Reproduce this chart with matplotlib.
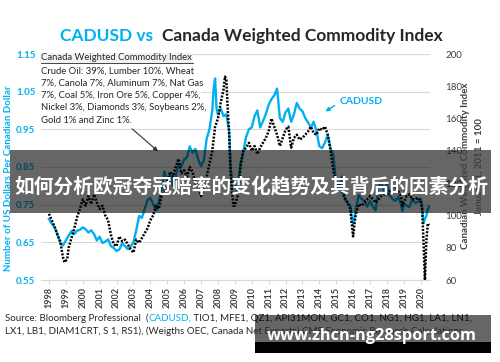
import matplotlib
matplotlib.use('Agg')
import matplotlib.pyplot as plt
from matplotlib.patches import Rectangle
from matplotlib.lines import Line2D

plt.rcParams['font.family'] = ['Lato', 'DejaVu Sans']

CYAN = '#00B0F0'
DARK = '#262626'

# CADUSD, US dollars per Canadian dollar
cad_months = ['1998-01', '1998-03', '1998-05', '1998-07', '1998-09', '1998-11',
              '1999-01', '1999-03', '1999-05', '1999-07', '1999-09', '1999-11',
              '2000-01', '2000-03', '2000-05', '2000-07', '2000-09', '2000-11',
              '2001-01', '2001-03', '2001-05', '2001-07', '2001-09', '2001-11',
              '2002-01', '2002-03', '2002-05', '2002-07', '2002-09', '2002-11',
              '2003-01', '2003-03', '2003-05', '2003-07', '2003-09', '2003-11',
              '2004-01', '2004-03', '2004-05', '2004-07', '2004-09', '2004-11',
              '2005-01', '2005-03', '2005-05', '2005-07', '2005-09', '2005-11',
              '2006-01', '2006-03', '2006-05', '2006-07', '2006-09', '2006-11',
              '2007-01', '2007-03', '2007-05', '2007-07', '2007-09', '2007-10', '2007-11', '2007-12',
              '2008-01', '2008-03', '2008-05', '2008-07', '2008-09', '2008-10', '2008-11',
              '2009-01', '2009-03', '2009-05', '2009-07', '2009-09', '2009-11',
              '2010-01', '2010-03', '2010-05', '2010-07', '2010-09', '2010-11',
              '2011-01', '2011-03', '2011-05', '2011-07', '2011-09', '2011-11',
              '2012-01', '2012-03', '2012-05', '2012-07', '2012-09', '2012-11',
              '2013-01', '2013-03', '2013-05', '2013-07', '2013-09', '2013-11',
              '2014-01', '2014-03', '2014-05', '2014-07', '2014-09', '2014-11',
              '2015-01', '2015-03', '2015-05', '2015-07', '2015-09', '2015-11', '2015-12',
              '2016-01', '2016-03', '2016-05', '2016-07', '2016-09', '2016-11',
              '2017-01', '2017-03', '2017-05', '2017-07', '2017-09', '2017-11',
              '2018-01', '2018-03', '2018-05', '2018-07', '2018-09', '2018-11', '2018-12',
              '2019-01', '2019-03', '2019-05', '2019-07', '2019-09', '2019-11',
              '2020-01', '2020-02', '2020-03', '2020-04', '2020-05', '2020-06', '2020-07']
cad_values = [0.712, 0.700, 0.690, 0.672, 0.648, 0.642,
              0.655, 0.668, 0.680, 0.672, 0.681, 0.683,
              0.690, 0.685, 0.676, 0.682, 0.672, 0.655,
              0.665, 0.648, 0.652, 0.658, 0.640, 0.635,
              0.627, 0.631, 0.648, 0.640, 0.632, 0.638,
              0.650, 0.682, 0.720, 0.715, 0.738, 0.762,
              0.768, 0.752, 0.735, 0.758, 0.790, 0.838,
              0.815, 0.828, 0.800, 0.825, 0.858, 0.852,
              0.870, 0.875, 0.905, 0.888, 0.898, 0.870,
              0.852, 0.868, 0.925, 0.950, 1.000, 1.060, 1.085, 1.005,
              0.990, 1.005, 0.985, 0.990, 0.945, 0.850, 0.820,
              0.800, 0.785, 0.860, 0.890, 0.930, 0.950,
              0.955, 0.985, 1.000, 0.955, 0.972, 0.990,
              1.015, 1.030, 1.040, 1.058, 0.980, 0.970,
              0.995, 1.005, 0.970, 0.990, 1.020, 1.005,
              0.998, 0.980, 0.968, 0.955, 0.970, 0.945,
              0.905, 0.900, 0.915, 0.935, 0.900, 0.880,
              0.805, 0.795, 0.825, 0.765, 0.755, 0.748, 0.720,
              0.697, 0.740, 0.775, 0.765, 0.760, 0.745,
              0.760, 0.745, 0.735, 0.795, 0.810, 0.785,
              0.805, 0.775, 0.765, 0.760, 0.770, 0.752, 0.733,
              0.752, 0.748, 0.743, 0.765, 0.755, 0.757,
              0.765, 0.745, 0.700, 0.712, 0.720, 0.738, 0.745]

# Canada weighted commodity index, Jan 1 2011 = 100
cwci_months = ['1998-01', '1998-03', '1998-05', '1998-07', '1998-09', '1998-11', '1998-12',
               '1999-02', '1999-03', '1999-05', '1999-07', '1999-09', '1999-11',
               '2000-01', '2000-03', '2000-05', '2000-07', '2000-09', '2000-11',
               '2001-01', '2001-03', '2001-05', '2001-07', '2001-09', '2001-11',
               '2002-01', '2002-03', '2002-05', '2002-07', '2002-09', '2002-11',
               '2003-01', '2003-03', '2003-05', '2003-07', '2003-09', '2003-11',
               '2004-01', '2004-03', '2004-05', '2004-07', '2004-09', '2004-11',
               '2005-01', '2005-03', '2005-05', '2005-07', '2005-09', '2005-11',
               '2006-01', '2006-03', '2006-05', '2006-07', '2006-09', '2006-11',
               '2007-01', '2007-03', '2007-05', '2007-07', '2007-09', '2007-11',
               '2008-01', '2008-03', '2008-05', '2008-06', '2008-07', '2008-08', '2008-09',
               '2008-10', '2008-11', '2008-12',
               '2009-01', '2009-03', '2009-05', '2009-07', '2009-09', '2009-11',
               '2010-01', '2010-03', '2010-05', '2010-07', '2010-09', '2010-11',
               '2011-01', '2011-03', '2011-05', '2011-07', '2011-09', '2011-11',
               '2012-01', '2012-03', '2012-05', '2012-07', '2012-09', '2012-11',
               '2013-01', '2013-03', '2013-05', '2013-07', '2013-09', '2013-11',
               '2014-01', '2014-03', '2014-05', '2014-07', '2014-09', '2014-11',
               '2015-01', '2015-03', '2015-05', '2015-07', '2015-09', '2015-11', '2015-12',
               '2016-01', '2016-02', '2016-03', '2016-05', '2016-07', '2016-09', '2016-11',
               '2017-01', '2017-03', '2017-05', '2017-07', '2017-09', '2017-11',
               '2018-01', '2018-03', '2018-05', '2018-07', '2018-09', '2018-11', '2018-12',
               '2019-01', '2019-03', '2019-05', '2019-07', '2019-09', '2019-11',
               '2020-01', '2020-02', '2020-03', '2020-04', '2020-05', '2020-06', '2020-07']
cwci_values = [101, 97, 93, 88, 84, 74, 71,
               73, 80, 86, 92, 99, 104,
               110, 106, 112, 107, 113, 108,
               104, 106, 100, 97, 88, 82,
               81, 87, 84, 85, 82, 79,
               77, 85, 83, 86, 89, 92,
               97, 100, 106, 104, 112, 115,
               120, 127, 124, 130, 135, 126,
               128, 124, 130, 127, 120, 118,
               112, 118, 124, 132, 140, 155,
               160, 170, 178, 186, 184, 165, 150,
               125, 115, 106,
               106, 112, 130, 140, 142, 145,
               140, 143, 138, 142, 145, 148,
               152, 160, 155, 150, 143, 148,
               153, 155, 142, 148, 150, 147,
               148, 150, 152, 155, 151, 150,
               154, 153, 155, 150, 140, 128,
               118, 120, 115, 111, 108, 104, 95,
               87, 95, 101, 107, 106, 108, 110,
               112, 110, 108, 110, 112, 113,
               113, 115, 117, 118, 115, 112, 106,
               108, 112, 113, 110, 110, 111,
               109, 104, 84, 60, 84, 95, 94]

years = list(range(1998, 2021))
left_ticks = [0.55, 0.65, 0.75, 0.85, 0.95, 1.05, 1.15]
right_ticks = [60, 80, 100, 120, 140, 160, 180, 200]

basket = ['Crude Oil: 39%, Lumber 10%, Wheat',
          '7%, Canola 7%, Aluminum 7%, Nat Gas',
          '7%, Coal 5%, Iron Ore 5%, Copper 4%,',
          'Nickel 3%, Diamonds 3%, Soybeans 2%,',
          'Gold 1% and Zinc 1%.']


def to_year(m):
    y, mo = m.split('-')
    return int(y) + (int(mo) - 1) / 12


def fx(x):
    return x / 500


def fy(y):
    return 1 - y / 362


cad_t = [to_year(m) for m in cad_months]
cwci_t = [to_year(m) for m in cwci_months]

fig = plt.figure(figsize=(5, 3.62), dpi=100)
ax = fig.add_axes([fx(41), fy(280), fx(430) - fx(41), fy(54) - fy(280)])
ax2 = ax.twinx()

ax.plot(cad_t, cad_values, color=CYAN, lw=1.7, zorder=2)
ax2.plot(cwci_t, cwci_values, color='black', lw=1.8, ls=(0, (0.8, 0.6)), zorder=3)

ax.set_xlim(1997.53, 2020.55)
ax.set_ylim(0.55, 1.15)
ax2.set_ylim(60, 200)
ax.set_yticks(left_ticks)
ax.set_yticklabels(['%.2f' % v for v in left_ticks], color=CYAN, fontsize=7, fontweight='bold')
ax2.set_yticks(right_ticks)
ax2.set_yticklabels([str(v) for v in right_ticks], color='#404040', fontsize=7)
ax.set_xticks(years)
ax.set_xticklabels([str(y) for y in years], rotation=90, fontsize=6.5, fontweight='bold', color='#404040')
ax.tick_params(axis='y', length=0, pad=4)
ax2.tick_params(axis='y', length=0, pad=11)
ax.tick_params(axis='x', length=3, color='#d9d9d9', pad=2)
ax.grid(axis='y', color='#d9d9d9', lw=0.8)
ax.set_axisbelow(True)
for a in (ax, ax2):
    for s in a.spines.values():
        s.set_visible(False)
ax.spines['bottom'].set_visible(True)
ax.spines['bottom'].set_color('#d9d9d9')

# axis titles
fig.text(fx(9), fy(178), 'Number of US Dollars Per Canadian Dollar', rotation=90,
         color=CYAN, fontsize=7, fontweight='bold', ha='center', va='center')
fig.text(fx(466), fy(166), 'Canadian Weighted Commodity Index', rotation=90,
         color='#404040', fontsize=7, fontweight='bold', ha='center', va='center')
fig.text(fx(480), fy(167), 'January 1, 2011 = 100', rotation=90,
         color='#404040', fontsize=7, fontweight='bold', ha='center', va='center')

# title in two colours
t1 = fig.text(fx(60), fy(36), 'CADUSD vs  ', color=CYAN, fontsize=12.5, fontweight='bold', va='center')
ax.annotate('Canada Weighted Commodity Index', xy=(1, 0), xycoords=t1, va='bottom',
            color=DARK, fontsize=12.5, fontweight='bold')

# basket description
fig.text(fx(41), fy(58), 'Canada Weighted Commodity Index', fontsize=6.8, color=DARK,
         va='center', bbox=dict(facecolor='#f2f2f2', edgecolor='none', pad=0.5))
fig.add_artist(Line2D([fx(41), fx(193)], [fy(63), fy(63)], color=DARK, lw=0.6))
for i, line in enumerate(basket):
    fig.text(fx(41), fy(71 + i * 12.3), line, fontsize=6.8, color=DARK, va='center',
             bbox=dict(facecolor='white', edgecolor='none', pad=0.3))
ax.annotate('', xy=(fx(160), fy(153)), xytext=(fx(130), fy(127)), xycoords='figure fraction',
            arrowprops=dict(arrowstyle='-|>', color='#333333', lw=0.8, mutation_scale=6))

# CADUSD label
fig.text(fx(340), fy(102), 'CADUSD', color=CYAN, fontsize=7.5, fontweight='bold', va='center')
ax.annotate('', xy=(fx(323), fy(113)), xytext=(fx(337), fy(104)), xycoords='figure fraction',
            arrowprops=dict(arrowstyle='-|>', color=CYAN, lw=1.0, mutation_scale=6))

# source note
s1 = fig.text(fx(5), fy(318), 'Source: Bloomberg Professional  (', fontsize=7, color=DARK, va='center')
s2 = ax.annotate('CADUSD,', xy=(1, 0), xycoords=s1, va='bottom', fontsize=7, color=CYAN)
ax.annotate(' TIO1, MFE1, QZ1, API31MON, GC1, CO1, NG1, HG1, LA1, LN1,', xy=(1, 0), xycoords=s2,
            va='bottom', fontsize=7, color=DARK)
fig.text(fx(5), fy(331), 'LX1, LB1, DIAM1CRT, S 1, RS1), (Weigths OEC, Canada Net Exports) '
         'CME Economic Research Calculations', fontsize=7, color=DARK, va='center')

# overlay banner
fig.add_artist(Rectangle((fx(10), fy(213)), fx(491) - fx(10), fy(150) - fy(213),
                         transform=fig.transFigure, facecolor='black', alpha=0.6, edgecolor='none'))
fig.text(fx(251), fy(186), '如何分析欧冠夺冠赔率的变化趋势及其背后的因素分析', color='white',
         fontsize=14.2, fontweight='bold', ha='center', va='center',
         family=['Noto Sans CJK SC', 'DejaVu Sans'])

# watermark
fig.add_artist(Rectangle((fx(255), fy(342)), fx(491) - fx(255), fy(315) - fy(342),
                         transform=fig.transFigure, facecolor='black', alpha=0.6, edgecolor='none'))
fig.add_artist(Rectangle((fx(255), fy(353)), fx(491) - fx(255), fy(342) - fy(353),
                         transform=fig.transFigure, facecolor='black', edgecolor='none'))
fig.text(fx(372), fy(336), 'www.zhcn-ng28sport.com', color='white', fontsize=11.8,
         fontweight='bold', ha='center', va='center', family=['Open Sans', 'DejaVu Sans'])

fig.savefig('out.png', dpi=100)
